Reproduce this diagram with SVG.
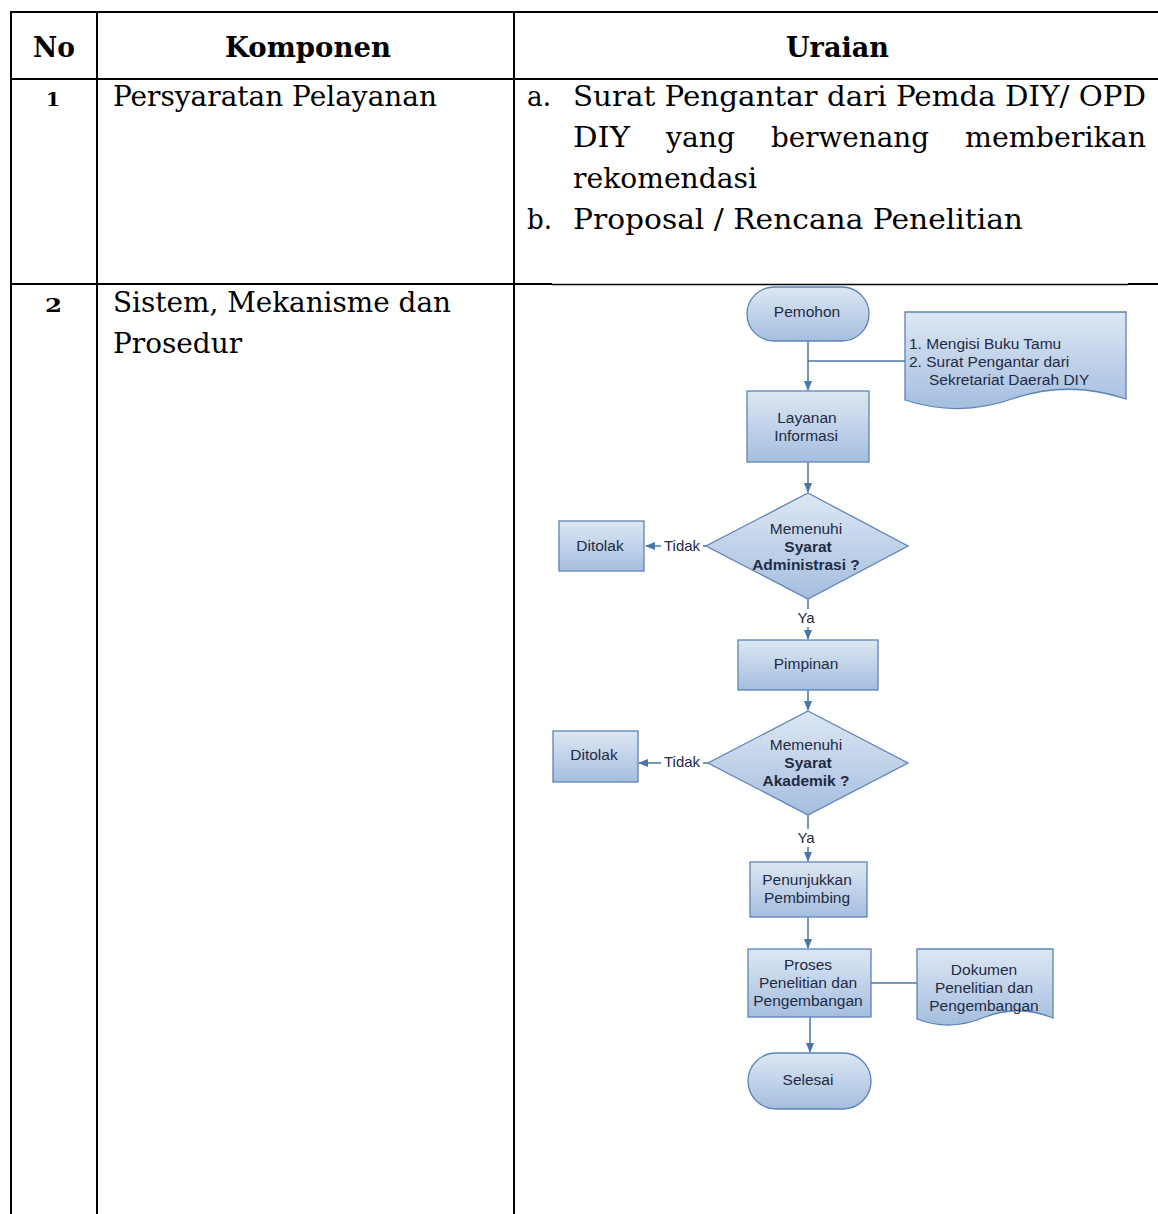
<svg xmlns="http://www.w3.org/2000/svg" width="1158" height="1214" viewBox="0 0 1158 1214">
<defs>
<linearGradient id="g" x1="0" y1="0" x2="0" y2="1">
<stop offset="0" stop-color="#dde7f3"/>
<stop offset="1" stop-color="#a5bedf"/>
</linearGradient>
<marker id="arr" markerWidth="10" markerHeight="10" refX="9" refY="5" orient="auto" markerUnits="userSpaceOnUse">
<path d="M0,1 L10,5 L0,9 z" fill="#4a76a8"/>
</marker>
<style>
.tl{stroke:#000;stroke-width:2;fill:none}
.tt{font-family:"DejaVu Serif","Liberation Serif",serif;font-size:27px;fill:#000}
.th{font-family:"DejaVu Serif","Liberation Serif",serif;font-size:27px;font-weight:bold;fill:#000}
.tn{font-family:"DejaVu Serif","Liberation Serif",serif;font-size:19px;font-weight:bold;fill:#000}
.sh{fill:url(#g);stroke:#5b83b5;stroke-width:1.3}
.ft{font-family:"Liberation Sans",Arial,sans-serif;font-size:15.5px;fill:#1f2a44;text-anchor:middle}
.fb{font-weight:bold}
.cn{stroke:#4a76a8;stroke-width:1.5;fill:none}
.lb{font-family:"Liberation Sans",Arial,sans-serif;font-size:15px;fill:#1f2a44;text-anchor:middle}
</style>
</defs>
<rect width="1158" height="1214" fill="#fff"/>

<g id="table">
<line class="tl" x1="10" y1="12" x2="1158" y2="12"/>
<line class="tl" x1="10" y1="79" x2="1158" y2="79"/>
<line class="tl" x1="10" y1="284" x2="552" y2="284"/>
<line x1="552" y1="284.5" x2="1128" y2="284.5" stroke="#000" stroke-width="1.3"/>
<line class="tl" x1="1128" y1="284" x2="1158" y2="284"/>
<line class="tl" x1="11" y1="11" x2="11" y2="1214"/>
<line class="tl" x1="97" y1="11" x2="97" y2="1214"/>
<line class="tl" x1="514" y1="11" x2="514" y2="1214"/>
<text class="th" x="33" y="57" textLength="42" lengthAdjust="spacingAndGlyphs">No</text>
<text class="th" x="225" y="57" textLength="166" lengthAdjust="spacingAndGlyphs">Komponen</text>
<text class="th" x="786" y="57" textLength="103" lengthAdjust="spacingAndGlyphs">Uraian</text>
<text class="tn" x="46" y="106" textLength="14" lengthAdjust="spacingAndGlyphs">1</text>
<text class="tt" x="113" y="106" textLength="324" lengthAdjust="spacingAndGlyphs">Persyaratan Pelayanan</text>
<text class="tt" x="527" y="106" textLength="24" lengthAdjust="spacingAndGlyphs">a.</text>
<text class="tt" x="573" y="106" textLength="573" lengthAdjust="spacingAndGlyphs">Surat Pengantar dari Pemda DIY/ OPD</text>
<text class="tt" y="147"><tspan x="573" textLength="57" lengthAdjust="spacingAndGlyphs">DIY</tspan> <tspan x="666" textLength="69" lengthAdjust="spacingAndGlyphs">yang</tspan> <tspan x="771" textLength="158" lengthAdjust="spacingAndGlyphs">berwenang</tspan> <tspan x="965" textLength="181" lengthAdjust="spacingAndGlyphs">memberikan</tspan></text>
<text class="tt" x="573" y="188" textLength="184" lengthAdjust="spacingAndGlyphs">rekomendasi</text>
<text class="tt" x="527" y="229" textLength="25" lengthAdjust="spacingAndGlyphs">b.</text>
<text class="tt" x="573" y="229" textLength="450" lengthAdjust="spacingAndGlyphs">Proposal / Rencana Penelitian</text>
<text class="tn" x="45" y="312" textLength="17" lengthAdjust="spacingAndGlyphs">2</text>
<text class="tt" x="113" y="312" textLength="338" lengthAdjust="spacingAndGlyphs">Sistem, Mekanisme dan</text>
<text class="tt" x="113" y="353" textLength="129" lengthAdjust="spacingAndGlyphs">Prosedur</text>
</g>

<g id="connectors">
<line class="cn" x1="808" y1="341" x2="808" y2="390" marker-end="url(#arr)"/>
<line class="cn" x1="808" y1="361" x2="905" y2="361"/>
<line class="cn" x1="808" y1="462" x2="808" y2="492" marker-end="url(#arr)"/>
<line class="cn" x1="706" y1="546" x2="646" y2="546" marker-end="url(#arr)"/>
<line class="cn" x1="808" y1="599" x2="808" y2="639" marker-end="url(#arr)"/>
<line class="cn" x1="808" y1="690" x2="808" y2="710" marker-end="url(#arr)"/>
<line class="cn" x1="708" y1="763" x2="639" y2="763" marker-end="url(#arr)"/>
<line class="cn" x1="808" y1="815" x2="808" y2="861" marker-end="url(#arr)"/>
<line class="cn" x1="808" y1="917" x2="808" y2="948" marker-end="url(#arr)"/>
<line class="cn" x1="871" y1="983" x2="917" y2="983"/>
<line class="cn" x1="810" y1="1017" x2="810" y2="1052" marker-end="url(#arr)"/>
<rect x="661" y="537" width="42" height="18" fill="#fff"/>
<text class="lb" x="682" y="551">Tidak</text>
<rect x="795" y="609" width="24" height="18" fill="#fff"/>
<text class="lb" x="806" y="623">Ya</text>
<rect x="661" y="753" width="42" height="18" fill="#fff"/>
<text class="lb" x="682" y="767">Tidak</text>
<rect x="795" y="829" width="24" height="18" fill="#fff"/>
<text class="lb" x="806" y="843">Ya</text>
</g>

<g id="pemohon">
<rect class="sh" x="747" y="287" width="122" height="54" rx="27"/>
<text class="ft" x="807" y="317">Pemohon</text>
</g>
<g id="dokumen1">
<path class="sh" d="M905,312 H1126 V399 Q1070,380 1015,398 Q960,418 905,400 Z"/>
<text class="ft" x="909" y="349" style="text-anchor:start">1. Mengisi Buku Tamu</text>
<text class="ft" x="909" y="367" style="text-anchor:start">2. Surat Pengantar dari</text>
<text class="ft" x="929" y="385" style="text-anchor:start">Sekretariat Daerah DIY</text>
</g>
<g id="layanan">
<rect class="sh" x="747" y="391" width="122" height="71"/>
<text class="ft" x="807" y="423">Layanan</text>
<text class="ft" x="806" y="441">Informasi</text>
</g>
<g id="syarat-admin">
<path class="sh" d="M808,493 L908,546 L808,599 L706,546 Z"/>
<text class="ft" x="806" y="534">Memenuhi</text>
<text class="ft fb" x="808" y="552">Syarat</text>
<text class="ft fb" x="806" y="570">Administrasi ?</text>
</g>
<g id="ditolak1">
<rect class="sh" x="559" y="521" width="85" height="50"/>
<text class="ft" x="600" y="551">Ditolak</text>
</g>
<g id="pimpinan">
<rect class="sh" x="738" y="640" width="140" height="50"/>
<text class="ft" x="806" y="669">Pimpinan</text>
</g>
<g id="syarat-akademik">
<path class="sh" d="M808,711 L908,763 L808,815 L708,763 Z"/>
<text class="ft" x="806" y="750">Memenuhi</text>
<text class="ft fb" x="808" y="768">Syarat</text>
<text class="ft fb" x="806" y="786">Akademik ?</text>
</g>
<g id="ditolak2">
<rect class="sh" x="553" y="731" width="85" height="51"/>
<text class="ft" x="594" y="760">Ditolak</text>
</g>
<g id="penunjukkan">
<rect class="sh" x="750" y="862" width="117" height="55"/>
<text class="ft" x="807" y="885">Penunjukkan</text>
<text class="ft" x="807" y="903">Pembimbing</text>
</g>
<g id="proses">
<rect class="sh" x="748" y="949" width="123" height="68"/>
<text class="ft" x="808" y="970">Proses</text>
<text class="ft" x="808" y="988">Penelitian dan</text>
<text class="ft" x="808" y="1006">Pengembangan</text>
</g>
<g id="dokumen2">
<path class="sh" d="M917,949 H1053 V1018 Q1020,1004 985,1017 Q950,1032 917,1019 Z"/>
<text class="ft" x="984" y="975">Dokumen</text>
<text class="ft" x="984" y="993">Penelitian dan</text>
<text class="ft" x="984" y="1011">Pengembangan</text>
</g>
<g id="selesai">
<rect class="sh" x="748" y="1053" width="123" height="56" rx="28"/>
<text class="ft" x="808" y="1085">Selesai</text>
</g>
</svg>
